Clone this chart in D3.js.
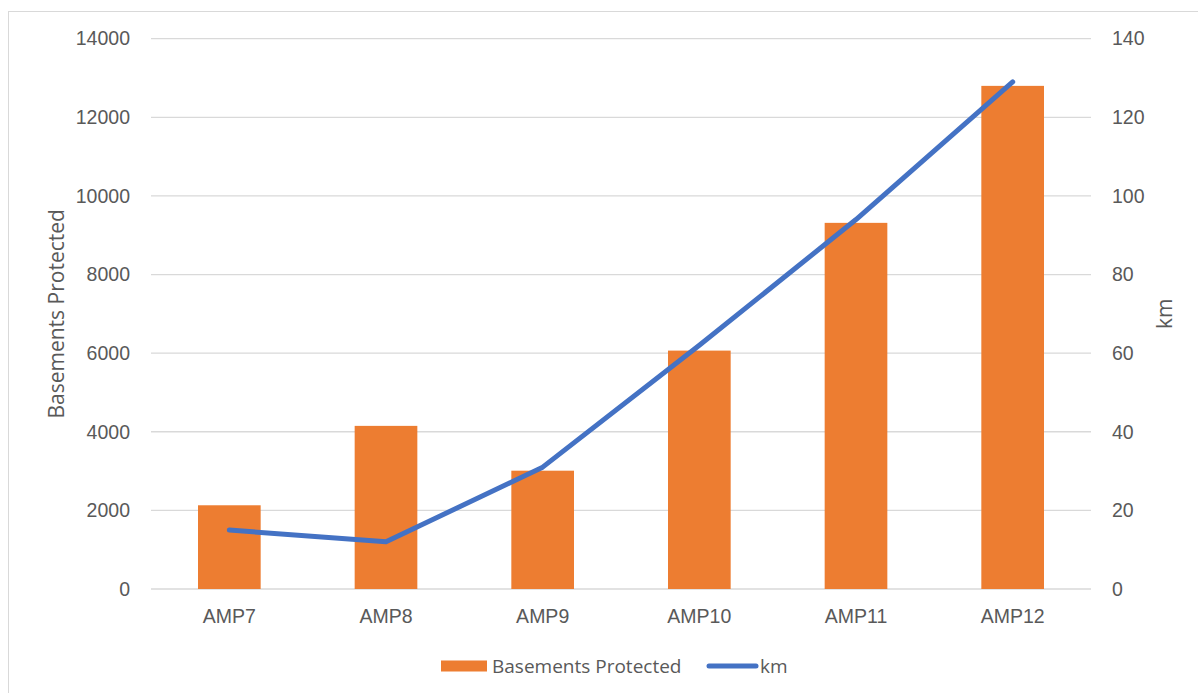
<!DOCTYPE html>
<html>
<head>
<meta charset="utf-8">
<script src="https://cdn.jsdelivr.net/npm/d3@7"></script>
<style>
  html, body { margin: 0; padding: 0; background: #fff; }
  svg { display: block; font-family: "Open Sans", "Liberation Sans", sans-serif; }
</style>
</head>
<body>
<svg id="chart" width="1198" height="693"></svg>
<script>
// Basements protected (bars, left axis) and km (line, right axis) per AMP period
const categories = ["AMP7", "AMP8", "AMP9", "AMP10", "AMP11", "AMP12"];
const basements = [2130, 4150, 3010, 6065, 9315, 12800];
const km = [15, 12, 31, 62, 94, 129];
const leftTicks = [0, 2000, 4000, 6000, 8000, 10000, 12000, 14000];
const rightTicks = [0, 20, 40, 60, 80, 100, 120, 140];

const svg = d3.select("#chart");
const plot = { left: 151, right: 1091, top: 38.7, bottom: 589 };
const textColor = "#595959";

// frame around the chart area
svg.append("rect")
  .attr("x", 8.5).attr("y", 11.5)
  .attr("width", 1198).attr("height", 700)
  .attr("fill", "none").attr("stroke", "#d9d9d9").attr("stroke-width", 1);

const x = d3.scaleBand().domain(categories)
  .range([plot.left, plot.right]).paddingInner(0.6).paddingOuter(0.3);
const xc = d3.scaleBand().domain(categories).range([plot.left, plot.right]);
const yL = d3.scaleLinear().domain([0, 14000]).range([plot.bottom, plot.top]);
const yR = d3.scaleLinear().domain([0, 140]).range([plot.bottom, plot.top]);

// gridlines
svg.append("g").selectAll("line").data(leftTicks).join("line")
  .attr("x1", plot.left).attr("x2", plot.right)
  .attr("y1", d => yL(d)).attr("y2", d => yL(d))
  .attr("stroke", "#d9d9d9").attr("stroke-width", 1.3);

// left axis
const axL = svg.append("g").attr("transform", `translate(${plot.left},0)`)
  .call(d3.axisLeft(yL).tickValues(leftTicks).tickSize(0).tickPadding(21).tickFormat(d3.format("d")));
axL.select(".domain").remove();
axL.selectAll("text").attr("fill", textColor).style("font-size", "19.5px");

// right axis
const axR = svg.append("g").attr("transform", `translate(${plot.right},0)`)
  .call(d3.axisRight(yR).tickValues(rightTicks).tickSize(0).tickPadding(21).tickFormat(d3.format("d")));
axR.select(".domain").remove();
axR.selectAll("text").attr("fill", textColor).style("font-size", "19.5px");

// category axis
const axB = svg.append("g").attr("transform", `translate(0,${plot.bottom})`)
  .call(d3.axisBottom(xc).tickSize(0).tickPadding(20));
axB.select(".domain").remove();
axB.selectAll("text").attr("fill", textColor).style("font-size", "19.5px");

// bars
svg.append("g").selectAll("rect").data(categories).join("rect")
  .attr("x", d => x(d))
  .attr("width", x.bandwidth())
  .attr("y", (d, i) => yL(basements[i]))
  .attr("height", (d, i) => yL(0) - yL(basements[i]))
  .attr("fill", "#ED7D31");

// km line
const line = d3.line()
  .x((d, i) => xc(categories[i]) + xc.bandwidth() / 2)
  .y(d => yR(d));
svg.append("path").datum(km)
  .attr("d", line)
  .attr("fill", "none").attr("stroke", "#4472C4")
  .attr("stroke-width", 5).attr("stroke-linecap", "round").attr("stroke-linejoin", "round");

// axis titles
svg.append("text")
  .attr("transform", `translate(64,${(plot.top + plot.bottom) / 2}) rotate(-90)`)
  .attr("text-anchor", "middle")
  .attr("fill", textColor).style("font-size", "21px")
  .text("Basements Protected");
svg.append("text")
  .attr("transform", `translate(1172,${(plot.top + plot.bottom) / 2}) rotate(-90)`)
  .attr("text-anchor", "middle")
  .attr("fill", textColor).style("font-size", "21px")
  .text("km");

// legend
const lg = svg.append("g").attr("transform", "translate(0,666)");
lg.append("rect").attr("x", 441).attr("y", -5.5).attr("width", 46).attr("height", 11).attr("fill", "#ED7D31");
lg.append("text").attr("x", 492).attr("y", 0).attr("dy", "0.35em")
  .attr("fill", textColor).style("font-size", "19px").text("Basements Protected");
lg.append("line").attr("x1", 709).attr("x2", 756).attr("y1", 0).attr("y2", 0)
  .attr("stroke", "#4472C4").attr("stroke-width", 5).attr("stroke-linecap", "round");
lg.append("text").attr("x", 760).attr("y", 0).attr("dy", "0.35em")
  .attr("fill", textColor).style("font-size", "19px").text("km");
</script>
</body>
</html>
